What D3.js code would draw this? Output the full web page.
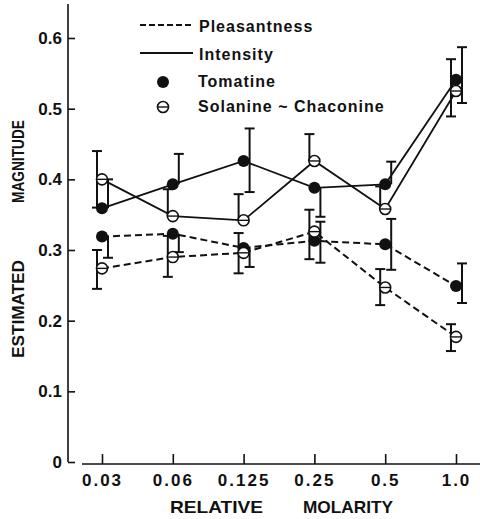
<!DOCTYPE html>
<html>
<head>
<meta charset="utf-8">
<script src="https://cdn.jsdelivr.net/npm/d3@7"></script>
<style>
	body { margin: 0; background: #fff; }
	svg text { font-family: "Liberation Sans", Arial, sans-serif; font-weight: bold; fill: #111; }
</style>
</head>
<body>
<div id="chart"></div>
<script>
// Categories (relative molarity)
var molarity = ["0.03", "0.06", "0.125", "0.25", "0.5", "1.0"];
var yTicks = [0, 0.1, 0.2, 0.3, 0.4, 0.5, 0.6];
// Estimated magnitude
var tomIntensity = [0.359, 0.393, 0.426, 0.388, 0.393, 0.541];
var solIntensity = [0.400, 0.348, 0.342, 0.426, 0.358, 0.525];
var tomPleasant  = [0.319, 0.323, 0.303, 0.313, 0.308, 0.249];
var solPleasant  = [0.274, 0.290, 0.296, 0.326, 0.247, 0.177];
// Error bars [low, high]
var tomIntensityErr = [[0.359, 0.400], [0.393, 0.436], [0.382, 0.472], [0.347, 0.388], [0.393, 0.425], [0.508, 0.587]];
var solIntensityErr = [[0.360, 0.440], [0.348, 0.386], [0.342, 0.379], [0.426, 0.464], [0.358, 0.390], [0.489, 0.570]];
var tomPleasantErr  = [[0.289, 0.319], [0.297, 0.323], [0.276, 0.303], [0.282, 0.340], [0.272, 0.344], [0.225, 0.281]];
var solPleasantErr  = [[0.245, 0.300], [0.262, 0.320], [0.267, 0.324], [0.287, 0.357], [0.222, 0.273], [0.157, 0.195]];

var width = 480, height = 519;
var svg = d3.select("#chart").append("svg")
	.attr("width", width)
	.attr("height", height);

var x = d3.scalePoint().domain(molarity).range([102, 456]);
var y = d3.scaleLinear().domain([0, 0.6]).range([462, 38]);

// Y axis (ticks point inward)
var yAxis = svg.append("g")
	.attr("transform", "translate(68,0)")
	.call(d3.axisLeft(y).tickValues(yTicks).tickSize(-7).tickPadding(6)
		.tickFormat(function(d){ return d === 0 ? "0" : d3.format(".1f")(d); }));
yAxis.select(".domain").remove();
yAxis.append("line")
	.attr("x1", 0).attr("x2", 0)
	.attr("y1", y(0)).attr("y2", y(0.648))
	.attr("stroke", "#111").attr("stroke-width", 1.6);
yAxis.selectAll(".tick line").attr("stroke", "#111").attr("stroke-width", 1.6);
yAxis.selectAll(".tick text").style("font-size", "17px").attr("fill", "#111");

// X axis
var xAxis = svg.append("g")
	.attr("transform", "translate(0,464)")
	.call(d3.axisBottom(x).tickSize(-10).tickPadding(10));
xAxis.select(".domain").remove();
xAxis.append("line")
	.attr("x1", 82).attr("x2", 480)
	.attr("stroke", "#111").attr("stroke-width", 1.6);
xAxis.selectAll(".tick line").attr("stroke", "#111").attr("stroke-width", 1.6);
xAxis.selectAll(".tick text").style("font-size", "17px").style("letter-spacing", "2px").attr("fill", "#111");

// Axis titles
svg.append("text").attr("x", 170).attr("y", 513).attr("textLength", 93)
	.attr("lengthAdjust", "spacingAndGlyphs").style("font-size", "17px").text("RELATIVE");
svg.append("text").attr("x", 303).attr("y", 513).attr("textLength", 90)
	.attr("lengthAdjust", "spacingAndGlyphs").style("font-size", "17px").text("MOLARITY");
svg.append("text").attr("transform", "translate(24,358) rotate(-90)").attr("textLength", 98)
	.attr("lengthAdjust", "spacingAndGlyphs").style("font-size", "16px").text("ESTIMATED");
svg.append("text").attr("transform", "translate(24,203) rotate(-90)").attr("textLength", 83)
	.attr("lengthAdjust", "spacingAndGlyphs").style("font-size", "16px").text("MAGNITUDE");

var series = [
	{vals: tomIntensity, err: tomIntensityErr, dash: null, filled: true, dx: 6},
	{vals: solIntensity, err: solIntensityErr, dash: null, filled: false, dx: -5},
	{vals: tomPleasant, err: tomPleasantErr, dash: "7,4", filled: true, dx: 6},
	{vals: solPleasant, err: solPleasantErr, dash: "7,4", filled: false, dx: -5}
];

var line = d3.line()
	.x(function(d, i){ return x(molarity[i]); })
	.y(function(d){ return y(d); });

// Connecting lines
series.forEach(function(s){
	svg.append("path")
		.datum(s.vals)
		.attr("d", line)
		.attr("fill", "none")
		.attr("stroke", "#111")
		.attr("stroke-width", s.dash ? 2 : 1.8)
		.attr("stroke-dasharray", s.dash);
});

// Error bars
series.forEach(function(s){
	var g = svg.append("g").attr("stroke", "#111").attr("stroke-width", 2);
	s.err.forEach(function(e, i){
		var cx = x(molarity[i]) + s.dx;
		g.append("line").attr("x1", cx).attr("x2", cx).attr("y1", y(e[0])).attr("y2", y(e[1]));
		e.forEach(function(v){
			if (Math.abs(v - s.vals[i]) > 0.006){
				g.append("line").attr("x1", cx - 5).attr("x2", cx + 5).attr("y1", y(v)).attr("y2", y(v));
			}
		});
	});
});

// Markers
function drawMarker(g, cx, cy, filled){
	if (filled){
		g.append("circle").attr("cx", cx).attr("cy", cy).attr("r", 6).attr("fill", "#111");
	}else{
		g.append("circle").attr("cx", cx).attr("cy", cy).attr("r", 5.5)
			.attr("fill", "#fff").attr("stroke", "#111").attr("stroke-width", 1.6);
		g.append("line").attr("x1", cx - 5.5).attr("x2", cx + 5.5).attr("y1", cy).attr("y2", cy)
			.attr("stroke", "#111").attr("stroke-width", 1.4);
	}
}
series.forEach(function(s){
	var g = svg.append("g");
	s.vals.forEach(function(v, i){
		drawMarker(g, x(molarity[i]), y(v), s.filled);
	});
});

// Legend
var leg = svg.append("g");
leg.append("line").attr("x1", 140).attr("x2", 193).attr("y1", 25).attr("y2", 25)
	.attr("stroke", "#111").attr("stroke-width", 2).attr("stroke-dasharray", "6,3");
leg.append("text").attr("x", 199).attr("y", 32).style("font-size", "16px").style("letter-spacing", "1px").text("Pleasantness");
leg.append("line").attr("x1", 140).attr("x2", 193).attr("y1", 53).attr("y2", 53)
	.attr("stroke", "#111").attr("stroke-width", 1.8);
leg.append("text").attr("x", 199).attr("y", 60).style("font-size", "16px").style("letter-spacing", "1px").text("Intensity");
drawMarker(leg, 163, 82, true);
leg.append("text").attr("x", 198).attr("y", 87).style("font-size", "16px").style("letter-spacing", "1px").text("Tomatine");
drawMarker(leg, 163, 107, false);
leg.append("text").attr("x", 198).attr("y", 112).style("font-size", "16px").style("letter-spacing", "1px").text("Solanine ~ Chaconine");
</script>
</body>
</html>
